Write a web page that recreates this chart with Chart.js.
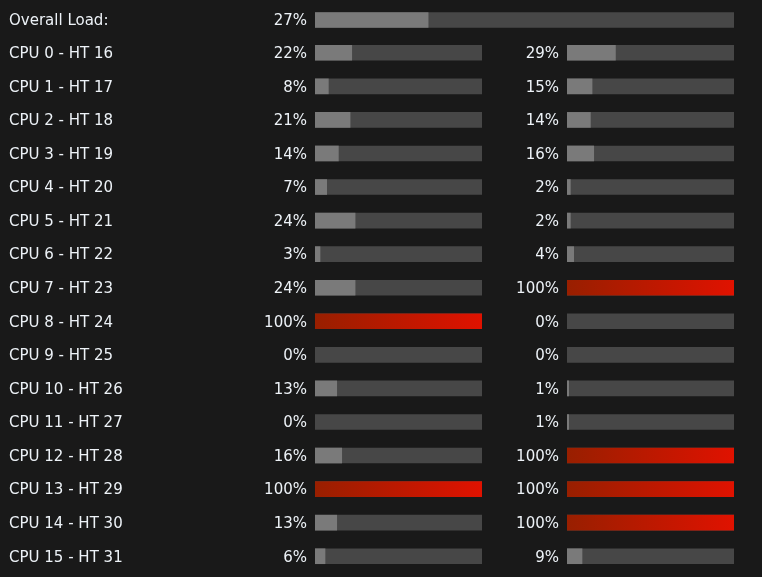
<!DOCTYPE html>
<html><head><meta charset="utf-8">
<script src="https://cdn.jsdelivr.net/npm/chart.js@4/dist/chart.umd.min.js"></script>
<style>
html,body{margin:0;padding:0;background:#191919;}
#wrap{position:relative;width:762px;height:577px;background:#191919;overflow:hidden;}
.box{position:absolute;}
</style></head>
<body>
<div id="wrap">
  <div class="box" style="left:0;top:3px;width:762px;height:34px"><canvas id="c0"></canvas></div>
  <div class="box" style="left:0;top:36px;width:490px;height:537px"><canvas id="c1"></canvas></div>
  <div class="box" style="left:490px;top:36px;width:272px;height:537px"><canvas id="c2"></canvas></div>
</div>
<script>
const overallLabel = ['Overall Load:'];
const overallLoad = [27];
const cpuLabels = ['CPU 0 - HT 16','CPU 1 - HT 17','CPU 2 - HT 18','CPU 3 - HT 19','CPU 4 - HT 20','CPU 5 - HT 21','CPU 6 - HT 22','CPU 7 - HT 23','CPU 8 - HT 24','CPU 9 - HT 25','CPU 10 - HT 26','CPU 11 - HT 27','CPU 12 - HT 28','CPU 13 - HT 29','CPU 14 - HT 30','CPU 15 - HT 31'];
const cpuLoad = [22,8,21,14,7,24,3,24,100,0,13,0,16,100,13,6];
const htLoad  = [29,15,14,16,2,2,4,100,0,0,1,1,100,100,100,9];

const FONT = '16.7px "DejaVu Sans Condensed", "DejaVu Sans"';
const TEXT = '#edf2f7';
const TRACK = '#474747';
const FILL = '#7a7a7a';

function fillColor(ctx){
  const v = ctx.raw;
  if (!v) return 'rgba(0,0,0,0)';
  if (v >= 90) {
    const chart = ctx.chart, ca = chart.chartArea;
    if (!ca) return '#c01800';
    const g = chart.ctx.createLinearGradient(ca.left, 0, ca.right, 0);
    g.addColorStop(0, '#981f00');
    g.addColorStop(1, '#e01200');
    return g;
  }
  return FILL;
}

const textPlugin = {
  id: 'rowText',
  afterDraw(chart, args, opts) {
    const c = chart.ctx;
    const meta = chart.getDatasetMeta(0);
    c.save();
    c.font = FONT;
    c.fillStyle = TEXT;
    c.textBaseline = 'middle';
    meta.data.forEach((bar, i) => {
      const y = bar.y + 1;
      if (opts.showLabels) {
        c.textAlign = 'left';
        c.fillText(chart.data.labels[i], 9, y);
      }
      c.textAlign = 'right';
      c.fillText(chart.data.datasets[0].data[i] + '%', chart.chartArea.left - 8, y);
    });
    c.restore();
  }
};

function makeChart(id, labels, values, padL, padR, showLabels){
  return new Chart(document.getElementById(id), {
    type: 'bar',
    data: {
      labels: labels,
      datasets: [
        { data: values, backgroundColor: fillColor, barThickness: 15, order: 1, borderWidth: 0 },
        { data: values.map(() => 100), backgroundColor: TRACK, barThickness: 15, order: 2, borderWidth: 0 }
      ]
    },
    options: {
      indexAxis: 'y',
      responsive: true,
      maintainAspectRatio: false,
      animation: false,
      layout: { padding: { left: padL, right: padR, top: 0, bottom: 0 } },
      datasets: { bar: { grouped: false } },
      scales: {
        x: { display: false, min: 0, max: 100 },
        y: { display: false }
      },
      plugins: {
        legend: { display: false },
        tooltip: { enabled: false },
        rowText: { showLabels: showLabels }
      }
    },
    plugins: [textPlugin]
  });
}

makeChart('c0', overallLabel, overallLoad, 315, 28, true);
makeChart('c1', cpuLabels, cpuLoad, 315, 8, true);
makeChart('c2', cpuLabels, htLoad, 77, 28, false);
</script>
</body></html>
